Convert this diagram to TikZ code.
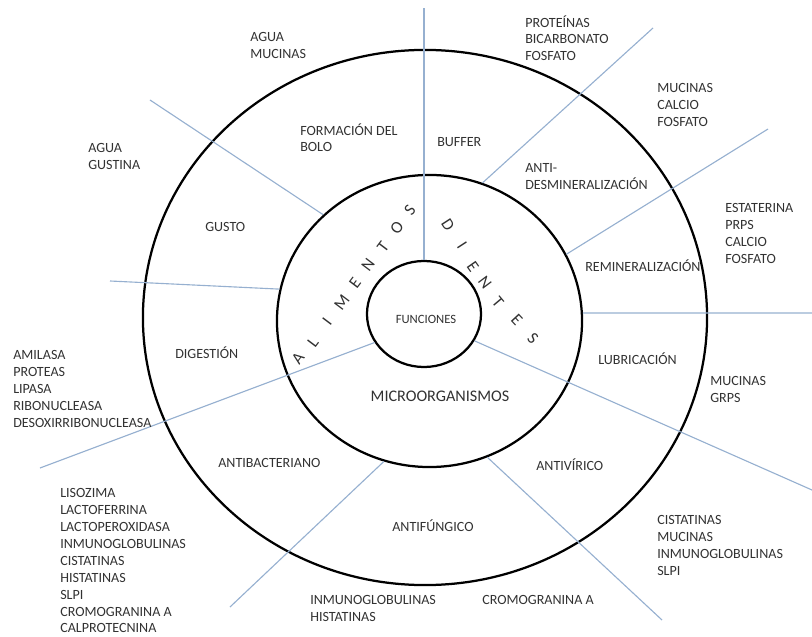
\documentclass[tikz,border=0pt]{standalone}
\usepackage{fontspec}
\setmainfont{Carlito}
\usetikzlibrary{shapes.geometric}

\definecolor{lineaazul}{RGB}{150,176,208}
\definecolor{textogris}{RGB}{50,50,50}

\tikzset{
  anillo/.style={draw=black, line width=1.6pt, ellipse, inner sep=0pt},
  radio/.style={draw=lineaazul, line width=0.8pt},
  lista/.style={anchor=north west, inner sep=0pt, align=left, text=textogris, font=\fontsize{10}{12}\selectfont},
  rotulo/.style={anchor=west, inner sep=0pt, text=textogris, text height=6.5pt, text depth=0pt, font=\fontsize{10}{12}\selectfont},
  letra/.style={inner sep=0pt, text=textogris, font=\fontsize{12}{14}\selectfont}
}

\begin{document}
\begin{tikzpicture}[x=0.025cm, y=-0.025cm]
			\useasboundingbox (0,0) rectangle (812,637);

			% Draw the three rings
			\node[anillo, minimum width=14.1cm, minimum height=13.375cm] (exterior) at (425,317.5) {};
			\node[anillo, minimum width=7.625cm, minimum height=7.3cm] (medio) at (429.5,321) {};
			\node[anillo, minimum width=2.85cm, minimum height=2.65cm] (centro) at (424,314) {};

			% Draw the radial lines
			\coordinate (p1) at (424,8);
			\coordinate (p2) at (653,28);
			\coordinate (p3) at (768,129);
			\coordinate (p4) at (812,313);
			\coordinate (p5) at (812,490);
			\coordinate (p6) at (662,620);
			\coordinate (p7) at (230,607);
			\coordinate (p8) at (40,468);
			\coordinate (p9) at (110,281);
			\coordinate (p10) at (150,100);

			\draw[radio] (centro.north) -- (p1);
			\draw[radio] (medio.69) -- (p2);
			\draw[radio] (medio.26) -- (p3);
			\draw[radio] (medio.3) -- (p4);
			\draw[radio] (centro.-28) -- (p5);
			\draw[radio] (medio.-67) -- (p6);
			\draw[radio] (medio.-108.5) -- (p7);
			\draw[radio] (centro.210) -- (p8);
			\draw[radio] (medio.168) -- (p9);
			\draw[radio] (medio.135) -- (p10);

			% Center
			\node[inner sep=0pt, text=textogris, font=\fontsize{9}{11}\selectfont] (funciones) at (426,319) {FUNCIONES};
			\node[inner sep=0pt, text=textogris, font=\fontsize{11.5}{14}\selectfont] (micro) at (440,396) {MICROORGANISMOS};

			% Letters around the middle ring
			\foreach \ch/\px/\py [count=\i] in {A/298/358, L/313/342, I/327/322, M/342/302, E/355/283, N/368/265, T/383/247, O/397/228, S/410/210}
				\node[letra, rotate=53] (alim\i) at (\px,\py) {\ch};
			\foreach \ch/\px/\py/\ang [count=\i] in {D/448/225/-57, I/462/245/-57, E/473/267/-55, N/485/283/-53, T/498/302/-50, E/517/320/-47, S/533/338/-45}
				\node[letra, rotate=\ang] (dien\i) at (\px,\py) {\ch};

			% Functions
			\node[lista] (bolo) at (300,123) {FORMACIÓN DEL\\BOLO};
			\node[rotulo] (buffer) at (437,142) {BUFFER};
			\node[lista] (antidesm) at (525,163.5) {ANTI-\\DESMINERALIZACIÓN};
			\node[rotulo] (gusto) at (205,227) {GUSTO};
			\node[rotulo] (remin) at (585,267) {REMINERALIZACIÓN};
			\node[rotulo] (digest) at (175,354) {DIGESTIÓN};
			\node[rotulo] (lubric) at (598,360) {LUBRICACIÓN};
			\node[rotulo] (antibac) at (218,463) {ANTIBACTERIANO};
			\node[rotulo] (antivir) at (536,466) {ANTIVÍRICO};
			\node[rotulo] (antifun) at (392,527) {ANTIFÚNGICO};

			% Components
			\node[lista] (l-bolo) at (250,32.5) {AGUA\\MUCINAS};
			\node[lista] (l-buffer) at (525,15) {PROTEÍNAS\\BICARBONATO\\FOSFATO};
			\node[lista] (l-antidesm) at (657,83.5) {MUCINAS\\CALCIO\\FOSFATO};
			\node[lista] (l-gusto) at (88,143.5) {AGUA\\GUSTINA};
			\node[lista] (l-remin) at (725,203.5) {ESTATERINA\\PRPS\\CALCIO\\FOSFATO};
			\node[lista] (l-digest) at (13,350.5) {AMILASA\\PROTEAS\\LIPASA\\RIBONUCLEASA\\DESOXIRRIBONUCLEASA};
			\node[lista] (l-lubric) at (710,376.5) {MUCINAS\\GRPS};
			\node[lista] (l-antibac) at (60,488.5) {LISOZIMA\\LACTOFERRINA\\LACTOPEROXIDASA\\INMUNOGLOBULINAS\\CISTATINAS\\HISTATINAS\\SLPI\\CROMOGRANINA A\\CALPROTECNINA};
			\node[lista] (l-antivir) at (657,515.5) {CISTATINAS\\MUCINAS\\INMUNOGLOBULINAS\\SLPI};
			\node[lista] (l-antifun) at (310,595.5) {INMUNOGLOBULINAS\\HISTATINAS};
			\node[rotulo] (l-antifun2) at (482,600) {CROMOGRANINA A};
\end{tikzpicture}
\end{document}
